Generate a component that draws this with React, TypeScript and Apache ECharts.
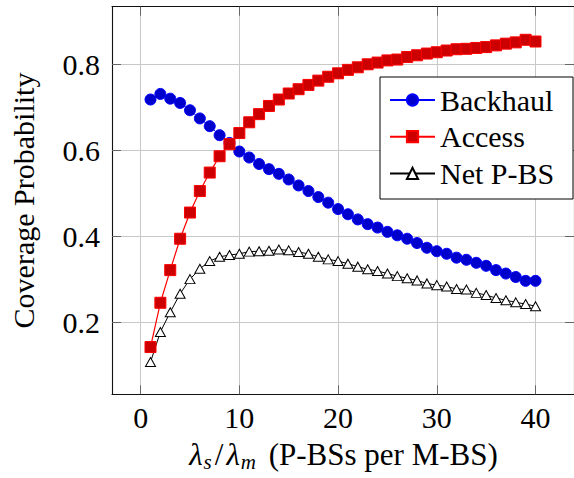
import React, { useEffect, useRef } from "react";
import * as echarts from "echarts";

const xValues = [1, 2, 3, 4, 5, 6, 7, 8, 9, 10, 11, 12, 13, 14, 15, 16, 17, 18, 19, 20, 21, 22, 23, 24, 25, 26, 27, 28, 29, 30, 31, 32, 33, 34, 35, 36, 37, 38, 39, 40];
const backhaul = [0.719, 0.732, 0.721, 0.711, 0.694, 0.675, 0.657, 0.636, 0.618, 0.598, 0.584, 0.569, 0.557, 0.546, 0.533, 0.519, 0.506, 0.492, 0.479, 0.464, 0.452, 0.44, 0.429, 0.421, 0.411, 0.403, 0.395, 0.385, 0.374, 0.366, 0.36, 0.351, 0.346, 0.339, 0.332, 0.322, 0.314, 0.306, 0.297, 0.297];
const access = [0.143, 0.246, 0.322, 0.395, 0.456, 0.506, 0.549, 0.587, 0.615, 0.641, 0.666, 0.685, 0.704, 0.719, 0.733, 0.743, 0.753, 0.763, 0.772, 0.78, 0.788, 0.794, 0.801, 0.805, 0.81, 0.812, 0.818, 0.822, 0.826, 0.829, 0.833, 0.836, 0.837, 0.839, 0.841, 0.845, 0.849, 0.852, 0.858, 0.854];
const netPBS = [0.108, 0.178, 0.224, 0.267, 0.301, 0.325, 0.343, 0.353, 0.357, 0.36, 0.365, 0.366, 0.367, 0.37, 0.368, 0.364, 0.36, 0.353, 0.347, 0.343, 0.337, 0.33, 0.324, 0.32, 0.314, 0.308, 0.303, 0.298, 0.291, 0.287, 0.284, 0.278, 0.277, 0.269, 0.264, 0.257, 0.252, 0.247, 0.243, 0.238];
const xTicks = [0, 10, 20, 30, 40];
const yTicks = [0.2, 0.4, 0.6, 0.8];
const seriesNames = ["Backhaul", "Access", "Net P-BS"];
const yTitle = "Coverage Probability";
const xTitle = "{i|λ}{sub|s}{sl|/}{i|λ}{sub|m}{n| (P-BSs per M-BS)}";

const FONT = "Liberation Serif";
const serif30 = { fontFamily: FONT, fontSize: 30, color: "#000", lineHeight: 30 };
const serif31 = { fontFamily: FONT, fontSize: 31, color: "#000", lineHeight: 31 };

export default function App() {
  const ref = useRef<HTMLDivElement>(null);
  useEffect(() => {
    const chart = echarts.init(ref.current!, null, { renderer: "svg" });
    const pair = (ys: number[]) => xValues.map((x, i) => [x, ys[i]]);
    const frame = { show: true, onZero: false, lineStyle: { color: "#111", width: 1.1 } };
    const tick = (vals: number[]) => ({ show: true, inside: true, length: 9, customValues: vals, lineStyle: { color: "#666", width: 1 } });
    const split = { show: true, lineStyle: { color: "#c8c8c8", width: 1 } };
    chart.setOption({
      animation: false,
      backgroundColor: "#fff",
      grid: { left: 112, top: 6.7, width: 466.7, height: 387.6 },
      xAxis: [
        {
          type: "value", min: -2.9, max: 43.9, position: "bottom",
          axisLine: frame, axisTick: tick(xTicks), splitLine: split,
          axisLabel: { customValues: xTicks, margin: 8, ...serif30 },
          name: xTitle, nameLocation: "middle", nameGap: 44,
          nameTextStyle: {
            fontFamily: FONT,
            rich: {
              i: { ...serif31, fontStyle: "italic", padding: [0, 1, 0, 1] },
              sub: { fontFamily: FONT, fontSize: 21, fontStyle: "italic", color: "#000", lineHeight: 21, padding: [14, 1, 0, 0] },
              sl: { ...serif31, padding: [0, 2, 0, 2] },
              n: { ...serif31, padding: [0, 0, 0, 4] },
            },
          },
        },
        {
          type: "value", min: -2.9, max: 43.9, position: "top",
          axisLine: frame, axisTick: tick(xTicks), splitLine: { show: false },
          axisLabel: { show: false },
        },
      ],
      yAxis: [
        {
          type: "value", min: 0.033, max: 0.935, position: "left",
          axisLine: frame, axisTick: tick(yTicks), splitLine: split,
          axisLabel: { customValues: yTicks, margin: 12, ...serif30, formatter: (v: number) => v.toFixed(1) },
          name: yTitle, nameLocation: "middle", nameGap: 74, nameRotate: 90,
          nameTextStyle: serif30,
        },
        {
          type: "value", min: 0.033, max: 0.935, position: "right",
          axisLine: frame, axisTick: tick(yTicks), splitLine: { show: false },
          axisLabel: { show: false },
        },
      ],
      legend: {
        show: true, orient: "vertical", left: 389, top: 85, padding: 0, itemGap: 6.7,
        itemWidth: 45, itemHeight: 14, z: 20,
        textStyle: serif30,
        data: seriesNames,
      },
      graphic: [
        {
          type: "rect", z: 15, zlevel: 0,
          shape: { x: 380, y: 77, width: 193, height: 122 },
          style: { fill: "#fff", stroke: "#000", lineWidth: 1 },
        },
      ],
      series: [
        {
          name: seriesNames[0], type: "line", data: pair(backhaul), symbol: "circle", symbolSize: 11, showAllSymbol: true,
          itemStyle: { color: "#0000cc", borderColor: "#0000ff", borderWidth: 1 },
          lineStyle: { color: "#0000ff", width: 1 },
        },
        {
          name: seriesNames[1], type: "line", data: pair(access), symbol: "rect", symbolSize: 11, showAllSymbol: true,
          itemStyle: { color: "#cc0000", borderColor: "#ff0000", borderWidth: 1 },
          lineStyle: { color: "#ff0000", width: 1.2 },
        },
        {
          name: seriesNames[2], type: "line", data: pair(netPBS), symbol: "triangle", symbolSize: [10, 9], showAllSymbol: true,
          itemStyle: { color: "#ffffff", borderColor: "#000000", borderWidth: 1 },
          lineStyle: { color: "#000000", width: 1 },
        },
      ],
    });
    return () => chart.dispose();
  }, []);
  return <div ref={ref} style={{ position: "absolute", left: 0, top: 0, width: 574, height: 478, background: "#fff" }} />;
}
